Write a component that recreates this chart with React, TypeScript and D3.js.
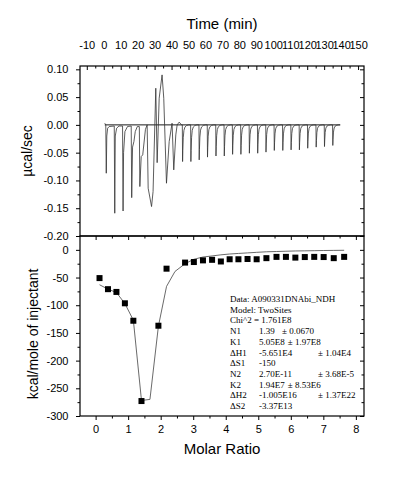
import { useEffect, useRef } from 'react'
import * as d3 from 'd3'

// raw thermogram, first ~46 min drawn vertex by vertex (min, µcal/sec)
const earlyTrace: [number, number][] = [
  [0.6, 0.003], [1.2, 0.0], [1.5, -0.087], [1.8, -0.02], [2.3, -0.006], [3.2, -0.003], [6.2, -0.002],
  [6.5, -0.159], [6.8, -0.02], [7.6, -0.006], [9.0, -0.002], [11.1, -0.002],
  [11.4, -0.155], [11.7, -0.05], [12.5, -0.012], [14.0, -0.003], [16.2, -0.002],
  [16.5, -0.131], [17.0, -0.04], [17.8, -0.03], [18.6, -0.012], [19.8, -0.003], [21.0, -0.003],
  [21.3, -0.111], [22.1, -0.057], [23.0, -0.054], [24.6, -0.008], [25.6, 0.0],
  [26.2, -0.114], [28.2, -0.147], [29.1, -0.12], [30.7, 0.066], [31.5, -0.068], [32.7, 0.048],
  [34.4, 0.09], [35.4, 0.048], [37.0, -0.105], [38.6, -0.03], [40.3, 0.003], [41.3, -0.081],
  [42.5, -0.018], [43.3, 0.0], [44.5, 0.005], [45.9, 0.0]
]

// later injections: time of the spike and its depth
const peakTimes = [46.5, 51.4, 56.3, 61.2, 66.2, 71.1, 76.0, 80.9, 85.9, 90.8, 95.7, 100.6, 105.6, 110.5, 115.4, 120.3, 125.3, 130.2, 135.1]
const peakHeights = [-0.066, -0.066, -0.063, -0.058, -0.056, -0.056, -0.053, -0.053, -0.051, -0.051, -0.049, -0.046, -0.046, -0.045, -0.045, -0.042, -0.04, -0.039, -0.037]
const traceEnd = 139.4
const baselineRange = [0.6, 139.5]

// integrated heats
const ratioData = [0.12, 0.38, 0.64, 0.9, 1.16, 1.41, 1.93, 2.18, 2.75, 3.02, 3.3, 3.58, 3.85, 4.12, 4.39, 4.67, 4.95, 5.25, 5.56, 5.85, 6.14, 6.43, 6.72, 7.01, 7.32, 7.64]
const heatData = [-51, -71, -76, -96.5, -128, -273, -137, -34, -23, -22, -19, -18, -21, -17, -17, -16.5, -17, -15, -12.7, -12.7, -14, -13, -12.7, -13, -15, -12.7]

// fitted curve
const fitRatio = [0.12, 0.38, 0.64, 0.9, 1.16, 1.41, 1.67, 1.93, 2.18, 2.44, 2.75, 3.02, 3.3, 3.58, 3.85, 4.12, 4.39, 4.67, 4.95, 5.25, 5.56, 5.85, 6.14, 6.43, 6.72, 7.01, 7.32, 7.64]
const fitHeat = [-63, -71, -77, -97, -127, -272, -270, -138, -66, -39, -25, -17, -13, -11, -9, -7.5, -6.5, -5.5, -4.5, -3.5, -3, -2.5, -2, -1.8, -1.5, -1.2, -1, -0.8]

const timeTicks = [-10, 0, 10, 20, 30, 40, 50, 60, 70, 80, 90, 100, 110, 120, 130, 140, 150]
const powerTicks = [-0.2, -0.15, -0.1, -0.05, 0, 0.05, 0.1]
const ratioTicks = [0, 1, 2, 3, 4, 5, 6, 7, 8]
const heatTicks = [0, -50, -100, -150, -200, -250, -300]

const fitLabels = ['Data: A090331DNAbi_NDH', 'Model: TwoSites', 'Chi^2 = 1.761E8', 'N1', 'K1', '\u0394H1', '\u0394S1', 'N2', 'K2', '\u0394H2', '\u0394S2']
const fitValues = ['', '', '', '1.39', '5.05E8', '-5.651E4', '-150', '2.70E-11', '1.94E7', '-1.005E16', '-3.37E13']
const fitErrors = ['', '', '', '\u00b1 0.0670', '\u00b1 1.97E8', '\u00b1 1.04E4', '', '\u00b1 3.68E-5', '\u00b1 8.53E6', '\u00b1 1.37E22', '']

// spike shape: [minutes after injection, fraction of depth]
const spike = [[-0.15, 0], [0, 1], [0.15, 0.7], [0.4, 0.35], [0.8, 0.15], [1.4, 0.06], [2.4, 0.015], [3.6, 0]]

const W = 416
const H = 485
const left = 80
const right = 364
const top1 = 66
const mid = 236
const bot = 416
const sans = '"Liberation Sans", Arial, sans-serif'

function ItcChart() {
  const svgRef = useRef<SVGSVGElement>(null)

  useEffect(() => {
    if (!svgRef.current) return
    const svg = d3.select(svgRef.current)
    svg.selectAll('*').remove()

    const xTime = d3.scaleLinear().domain([-14, 153.5]).range([left, right])
    const yPow = d3.scaleLinear().domain([-0.2, 0.106]).range([mid, top1])
    const xRatio = d3.scaleLinear().domain([-0.48, 8.25]).range([left, right])
    const yHeat = d3.scaleLinear().domain([-300, 25]).range([bot, mid])

    const halves = (t: number[]) => t.slice(0, -1).map((v, i) => (v + t[i + 1]) / 2)

    const styleAxis = (g: any, labels: boolean) => {
      g.select('.domain').remove()
      g.selectAll('line').attr('stroke', '#000').attr('stroke-width', 1)
      g.selectAll('text')
        .attr('font-family', sans)
        .attr('font-size', 11)
        .attr('fill', '#000')
      if (!labels) g.selectAll('text').remove()
    }

    const addAxis = (axis: any, tx: number, ty: number, labels: boolean) => {
      svg.append('g')
        .attr('transform', `translate(${tx},${ty})`)
        .call(axis)
        .call((g: any) => styleAxis(g, labels))
    }

    // top panel axes
    addAxis(d3.axisTop(xTime).tickValues(timeTicks).tickSizeInner(-4).tickSizeOuter(0).tickPadding(17.5).tickFormat((d: any) => String(d)), 0, top1, true)
    addAxis(d3.axisTop(xTime).tickValues(halves(timeTicks)).tickSizeInner(-2.5).tickSizeOuter(0), 0, top1, false)
    addAxis(d3.axisLeft(yPow).tickValues(powerTicks).tickSizeInner(4).tickSizeOuter(0).tickPadding(7.5).tickFormat((d: any) => (+d).toFixed(2)), left, 0, true)
    addAxis(d3.axisLeft(yPow).tickValues(halves(powerTicks)).tickSizeInner(2.5).tickSizeOuter(0), left, 0, false)
    addAxis(d3.axisRight(yPow).tickValues(powerTicks).tickSizeInner(-4).tickSizeOuter(0), right, 0, false)
    addAxis(d3.axisRight(yPow).tickValues(halves(powerTicks)).tickSizeInner(-2.5).tickSizeOuter(0), right, 0, false)

    // bottom panel axes
    addAxis(d3.axisBottom(xRatio).tickValues(ratioTicks).tickSizeInner(4).tickSizeOuter(0).tickPadding(5.5).tickFormat((d: any) => String(d)), 0, bot, true)
    addAxis(d3.axisBottom(xRatio).tickValues(halves(ratioTicks)).tickSizeInner(2.5).tickSizeOuter(0), 0, bot, false)
    addAxis(d3.axisTop(xRatio).tickValues(ratioTicks).tickSizeInner(-4).tickSizeOuter(0), 0, mid, false)
    addAxis(d3.axisTop(xRatio).tickValues(halves(ratioTicks)).tickSizeInner(-2.5).tickSizeOuter(0), 0, mid, false)
    addAxis(d3.axisLeft(yHeat).tickValues(heatTicks).tickSizeInner(4).tickSizeOuter(0).tickPadding(7.5).tickFormat((d: any) => String(d)), left, 0, true)
    addAxis(d3.axisLeft(yHeat).tickValues(halves(heatTicks)).tickSizeInner(2.5).tickSizeOuter(0), left, 0, false)
    addAxis(d3.axisRight(yHeat).tickValues(heatTicks).tickSizeInner(-4).tickSizeOuter(0), right, 0, false)
    addAxis(d3.axisRight(yHeat).tickValues(halves(heatTicks)).tickSizeInner(-2.5).tickSizeOuter(0), right, 0, false)

    // panel frames
    svg.append('rect')
      .attr('x', left).attr('y', top1).attr('width', right - left).attr('height', mid - top1)
      .attr('fill', 'none').attr('stroke', '#000').attr('stroke-width', 1.2)
    svg.append('rect')
      .attr('x', left).attr('y', mid).attr('width', right - left).attr('height', bot - mid)
      .attr('fill', 'none').attr('stroke', '#000').attr('stroke-width', 1.2)

    // thermogram
    const trace: [number, number][] = [...earlyTrace]
    peakTimes.forEach((t, i) => {
      spike.forEach(([dt, f]) => trace.push([t + dt, f * peakHeights[i]]))
    })
    trace.push([traceEnd, 0])

    svg.append('line')
      .attr('x1', xTime(baselineRange[0])).attr('x2', xTime(baselineRange[1]))
      .attr('y1', yPow(0)).attr('y2', yPow(0))
      .attr('stroke', '#000').attr('stroke-width', 0.9)

    const traceLine = d3.line<[number, number]>()
      .x((d: [number, number]) => xTime(d[0]))
      .y((d: [number, number]) => yPow(d[1]))
    svg.append('path')
      .datum(trace)
      .attr('fill', 'none')
      .attr('stroke', '#333')
      .attr('stroke-width', 0.8)
      .attr('d', traceLine)

    // fitted curve
    const fitLine = d3.line<number>()
      .x((d: number) => xRatio(d))
      .y((_d: number, i: number) => yHeat(fitHeat[i]))
    svg.append('path')
      .datum(fitRatio)
      .attr('fill', 'none')
      .attr('stroke', '#444')
      .attr('stroke-width', 0.8)
      .attr('d', fitLine)

    // heat squares
    const sq = 6
    svg.selectAll('rect.pt')
      .data(ratioData)
      .enter()
      .append('rect')
      .attr('class', 'pt')
      .attr('x', (d: number) => xRatio(d) - sq / 2)
      .attr('y', (_d: number, i: number) => yHeat(heatData[i]) - sq / 2)
      .attr('width', sq)
      .attr('height', sq)
      .attr('fill', '#000')

    // axis titles
    svg.append('text')
      .attr('x', 222).attr('y', 28.5)
      .attr('text-anchor', 'middle')
      .attr('font-family', sans).attr('font-size', 15)
      .text('Time (min)')
    svg.append('text')
      .attr('x', 222).attr('y', 454)
      .attr('text-anchor', 'middle')
      .attr('font-family', sans).attr('font-size', 15)
      .text('Molar Ratio')
    svg.append('text')
      .attr('transform', `translate(32,${(top1 + mid) / 2}) rotate(-90)`)
      .attr('text-anchor', 'middle')
      .attr('font-family', sans).attr('font-size', 14)
      .text('\u00b5cal/sec')
    svg.append('text')
      .attr('transform', `translate(38,${(mid + bot) / 2 + 8}) rotate(-90)`)
      .attr('text-anchor', 'middle')
      .attr('font-family', sans).attr('font-size', 14)
      .text('kcal/mole of injectant')

    // fit parameters box
    const serif = '"Liberation Serif", "Times New Roman", serif'
    const box = svg.append('g')
      .attr('font-family', serif)
      .attr('font-size', 9)
      .attr('fill', '#000')
    fitLabels.forEach((label, i) => {
      const y = 302 + i * 10.7
      box.append('text').attr('x', 230).attr('y', y).text(label)
      let valueEnd = 259
      if (fitValues[i]) {
        const v = box.append('text').attr('x', 259).attr('y', y).text(fitValues[i])
        const node = v.node() as SVGTextElement | null
        valueEnd = 259 + (node ? node.getComputedTextLength() : 0)
      }
      if (fitErrors[i]) {
        const far = fitValues[i].length > 6
        const x = far ? Math.max(318, valueEnd + 3) : Math.max(282, valueEnd + 3)
        box.append('text').attr('x', x).attr('y', y).text(fitErrors[i])
      }
    })
  }, [])

  return <svg ref={svgRef} width={W} height={H} style={{ position: 'absolute', left: 0, top: 0, background: '#fff' }} />
}

export default function App() {
  return <ItcChart />
}
